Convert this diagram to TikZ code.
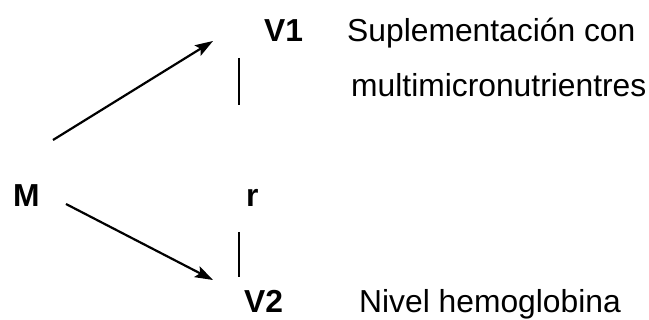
\documentclass[tikz,border=0pt]{standalone}
\usepackage{fontspec}
\setmainfont{Liberation Sans}
\usetikzlibrary{arrows.meta}
\begin{document}
\begin{tikzpicture}[x=1pt,y=-1pt,
  lbl/.style={anchor=base west,inner sep=0pt,font=\fontsize{31.8}{38}\selectfont},
  var/.style={lbl,font=\fontsize{31.8}{38}\selectfont\bfseries},
  link/.style={line width=2.2pt,-{Stealth[length=18pt,width=12pt,inset=3.5pt]}},
  bar/.style={line width=1.2pt}]
\useasboundingbox (0,0) rectangle (649,320);
% variables
\node[var] (M)  at (13,207)  {M};
\node[var] (V1) at (264,42)  {V1};
\node[var] (r)  at (246,207) {r};
\node[var] (V2) at (244,313) {V2};
% descriptions
\node[lbl] (d1a) at (347,42)  {Suplementación con};
\node[lbl] (d1b) at (351,97)  {multimicronutrientres};
\node[lbl] (d2)  at (359,313) {Nivel hemoglobina};
% arrow end points
\coordinate (m1) at (53,140);
\coordinate (t1) at (213,41);
\coordinate (m2) at (66,204);
\coordinate (t2) at (213,280);
\draw[link] (m1) -- (t1);
\draw[link] (m2) -- (t2);
% correlation bars
\coordinate (b1) at (239,58);
\coordinate (b2) at (239,105);
\coordinate (b3) at (239,232);
\coordinate (b4) at (239,277);
\draw[bar] (b1) -- (b2);
\draw[bar] (b3) -- (b4);
\end{tikzpicture}
\end{document}
